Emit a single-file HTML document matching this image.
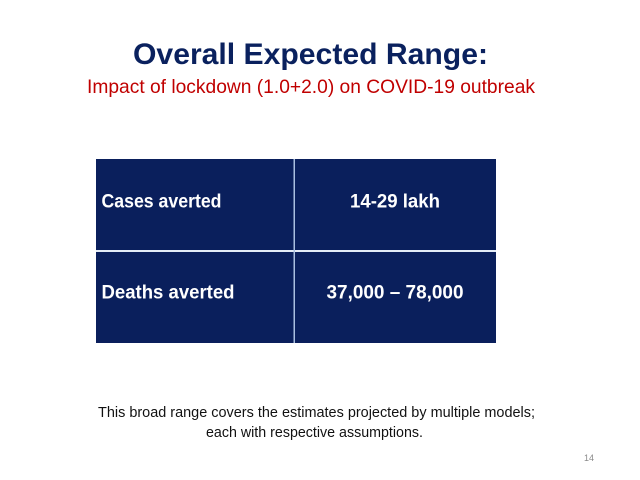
<!DOCTYPE html>
<html>
<head>
<meta charset="utf-8">
<style>
html,body{margin:0;padding:0;background:#fff;}
body{width:640px;height:480px;overflow:hidden;}
svg{display:block;}
</style>
</head>
<body>
<svg width="640" height="480" viewBox="0 0 640 480" xmlns="http://www.w3.org/2000/svg">
  <rect x="0" y="0" width="640" height="480" fill="#ffffff"/>
  <text x="310.5" y="64" text-anchor="middle" font-family="Liberation Sans, sans-serif" font-weight="bold" font-size="30" fill="#0a215e" textLength="355" lengthAdjust="spacingAndGlyphs">Overall Expected Range:</text>
  <text x="311" y="93" text-anchor="middle" font-family="Liberation Sans, sans-serif" font-size="19.5" fill="#c00000" textLength="448" lengthAdjust="spacingAndGlyphs">Impact of lockdown (1.0+2.0) on COVID-19 outbreak</text>

  <rect x="96" y="159" width="400" height="184" fill="#0a1f5c"/>
  <rect x="96" y="250" width="400" height="2" fill="#e4ecf7"/>
  <rect x="293.5" y="159" width="1.5" height="184" fill="#a9bfe0"/>

  <text x="101.5" y="207.5" font-family="Liberation Sans, sans-serif" font-weight="bold" font-size="19.5" fill="#ffffff" textLength="120" lengthAdjust="spacingAndGlyphs">Cases averted</text>
  <text x="395" y="207.5" text-anchor="middle" font-family="Liberation Sans, sans-serif" font-weight="bold" font-size="19.5" fill="#ffffff" textLength="90" lengthAdjust="spacingAndGlyphs">14-29 lakh</text>
  <text x="101.5" y="298.5" font-family="Liberation Sans, sans-serif" font-weight="bold" font-size="19.5" fill="#ffffff" textLength="133" lengthAdjust="spacingAndGlyphs">Deaths averted</text>
  <text x="395" y="298.5" text-anchor="middle" font-family="Liberation Sans, sans-serif" font-weight="bold" font-size="19.5" fill="#ffffff" textLength="137" lengthAdjust="spacingAndGlyphs">37,000 – 78,000</text>

  <text x="316.5" y="417" text-anchor="middle" font-family="Liberation Sans, sans-serif" font-size="15" fill="#111111" textLength="437" lengthAdjust="spacingAndGlyphs">This broad range covers the estimates projected by multiple models;</text>
  <text x="314.5" y="437" text-anchor="middle" font-family="Liberation Sans, sans-serif" font-size="15" fill="#111111" textLength="217" lengthAdjust="spacingAndGlyphs">each with respective assumptions.</text>

  <text x="584" y="461" font-family="Liberation Sans, sans-serif" font-size="9" fill="#8a8a8a">14</text>
</svg>
</body>
</html>
